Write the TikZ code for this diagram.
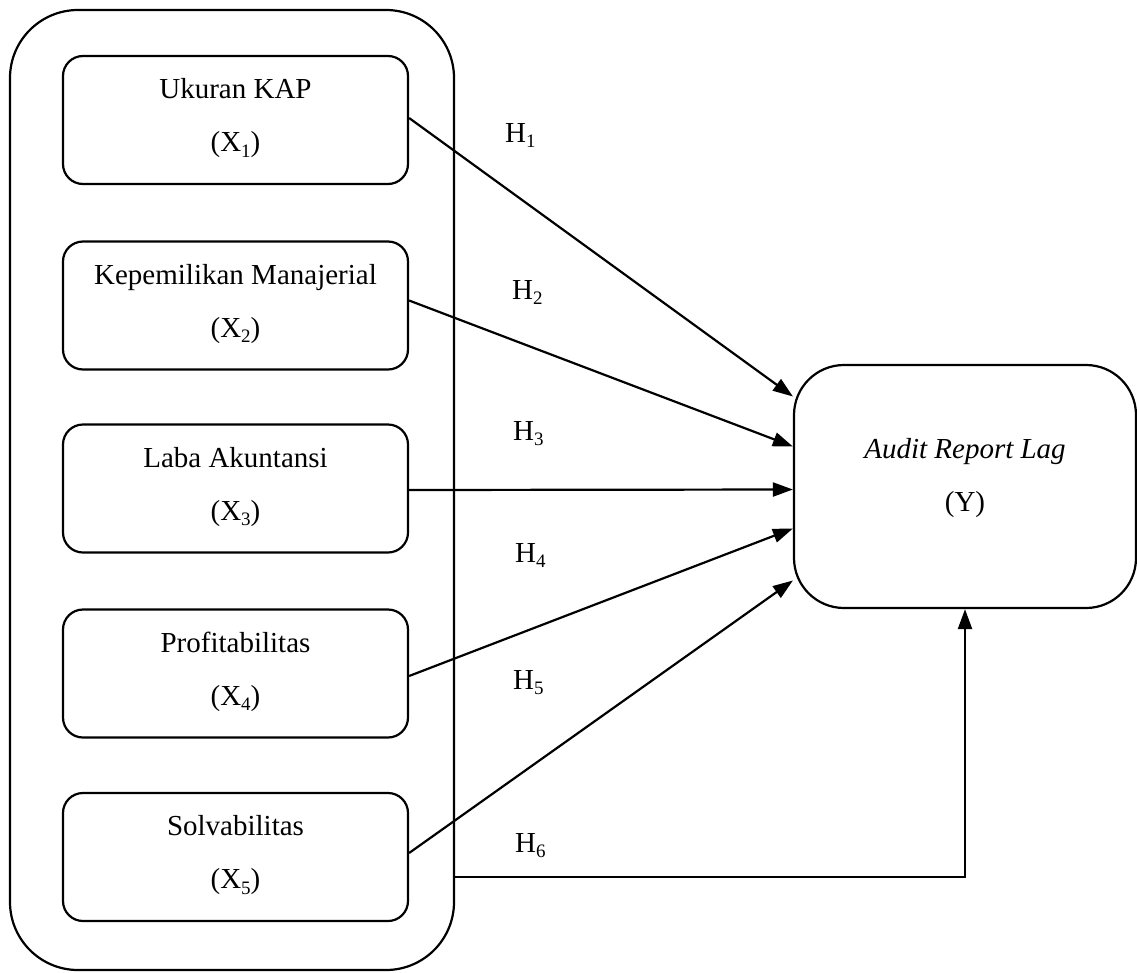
\documentclass[tikz,border=0pt]{standalone}
\usepackage{fontspec}
\setmainfont{Liberation Serif}
\usetikzlibrary{arrows.meta,calc}
\newcommand\subx[1]{\raisebox{-0.18em}{\fontsize{19}{20}\selectfont #1}}
\tikzset{
  varbox/.style={draw, line width=2.2pt, rounded corners=20pt, minimum width=345pt, minimum height=128pt, inner sep=0pt},
  outerbox/.style={draw, line width=2.2pt, rounded corners=68pt, minimum width=444pt, minimum height=960pt, inner sep=0pt},
  ybox/.style={draw, line width=2.2pt, rounded corners=50pt, minimum width=342pt, minimum height=243pt, inner sep=0pt},
  txt/.style={anchor=base, inner sep=0pt, font=\fontsize{29}{34}\selectfont},
  hlab/.style={anchor=base west, inner sep=0pt, font=\fontsize{29}{34}\selectfont},
  arr/.style={line width=2.2pt, -{Triangle[length=20pt,width=14pt]}}
}
\begin{document}
\begin{tikzpicture}[x=1pt,y=-1pt]
\useasboundingbox (0,0) rectangle (1137,972);
\node[outerbox] (outer) at (232,490) {};
\node[varbox] (b1) at (235.5,120) {};
\node[varbox] (b2) at (235.5,305.5) {};
\node[varbox] (b3) at (235.5,488.5) {};
\node[varbox] (b4) at (235.5,673.5) {};
\node[varbox] (b5) at (235.5,857) {};
\node[ybox] (Y) at (965,486.5) {};

\node[txt] (t1a) at ($(b1.north)+(0,44)$) {Ukuran KAP};
\node[txt] (t1b) at ($(b1.north)+(0,97)$) {(X\subx{1})};
\node[txt] (t2a) at ($(b2.north)+(0,44)$) {Kepemilikan Manajerial};
\node[txt] (t2b) at ($(b2.north)+(0,97)$) {(X\subx{2})};
\node[txt] (t3a) at ($(b3.north)+(0,44)$) {Laba Akuntansi};
\node[txt] (t3b) at ($(b3.north)+(0,97)$) {(X\subx{3})};
\node[txt] (t4a) at ($(b4.north)+(0,44)$) {Profitabilitas};
\node[txt] (t4b) at ($(b4.north)+(0,97)$) {(X\subx{4})};
\node[txt] (t5a) at ($(b5.north)+(0,44)$) {Solvabilitas};
\node[txt] (t5b) at ($(b5.north)+(0,97)$) {(X\subx{5})};
\node[txt] (tya) at ($(Y.north)+(0,95)$) {\itshape Audit Report Lag};
\node[txt] (tyb) at ($(Y.north)+(0,148)$) {(Y)};

\coordinate (e1) at ($(Y.west)+(0,-90)$);
\coordinate (e2) at ($(Y.west)+(0,-40)$);
\coordinate (e3) at ($(Y.west)+(0,3)$);
\coordinate (e4) at ($(Y.west)+(0,42)$);
\coordinate (e5) at ($(Y.west)+(0,94)$);
\coordinate (s1) at ($(b1.east)+(0,-2)$);
\coordinate (s2) at ($(b2.east)+(0,-5)$);
\coordinate (s3) at ($(b3.east)+(0,1.5)$);
\coordinate (s4) at ($(b4.east)+(0,2.5)$);
\coordinate (s5) at ($(b5.east)+(0,-4)$);
\coordinate (s6) at (outer.east |- 0,877);

\draw[arr] (s1) -- (e1);
\draw[arr] (s2) -- (e2);
\draw[arr] (s3) -- (e3);
\draw[arr] (s4) -- (e4);
\draw[arr] (s5) -- (e5);
\draw[arr] (s6) -| (Y.south);

\node[hlab] (h1) at (505,142) {H\subx{1}};
\node[hlab] (h2) at (512,299) {H\subx{2}};
\node[hlab] (h3) at (513,440) {H\subx{3}};
\node[hlab] (h4) at (515,562) {H\subx{4}};
\node[hlab] (h5) at (513,689) {H\subx{5}};
\node[hlab] (h6) at (515,852) {H\subx{6}};
\end{tikzpicture}
\end{document}
